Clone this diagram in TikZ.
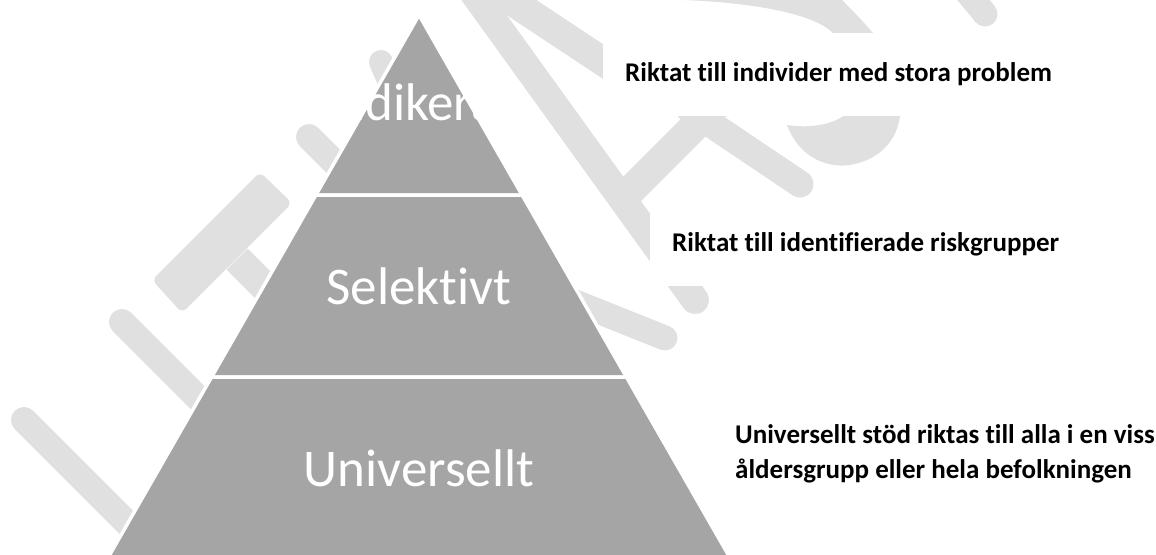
\documentclass[tikz,border=0pt]{standalone}
\usepackage{fontspec}
\setmainfont{Carlito}[Ligatures=NoCommon]
\usepackage{xcolor}
\usepackage{tikz}
\definecolor{tier}{HTML}{A5A5A5}
\definecolor{wmark}{HTML}{E0E0E0}
\tikzset{
  wm/.style={draw=wmark, line width=26pt, line cap=round},
  tierS/.style={fill=tier, draw=white, line width=3.5pt},
  lbl/.style={text=white, font=\fontsize{53}{60}\selectfont, inner sep=0pt, anchor=base},
  desc/.style={fill=white, anchor=west, minimum height=83pt, inner xsep=22pt, inner ysep=0pt, align=left, font=\bfseries\fontsize{27}{35}\selectfont}
}

\begin{document}
\begin{tikzpicture}[x=1pt, y=-1pt]
  \useasboundingbox (0,0) rectangle (1156,554);
  \clip (0,0) rectangle (1156,554);
  \draw[wm] (24,420) -- (170,566);
  \draw[wm] (122,322) -- (250,450);
  \fill[wmark, rounded corners=6pt] (152,280) -- (182,313) -- (292,203) -- (260,172) -- cycle;
  \draw[wm, line width=30pt, line cap=butt] (237,259) -- (300,322);
  \draw[wm] (309,137) -- (380,208);
  \draw[wm, line width=24pt] (381,62) -- (402,110);
  \draw[wm, line width=28pt] (470,-12) -- (695,300);
  \draw[wm, line width=29pt, line cap=butt] (495,-10) -- (640,86);
  \draw[wm, line width=30pt, line cap=butt] (720,101) -- (630,191);
  \draw[wm, line width=27pt] (690,110) -- (800,184);
  \draw[wm, line width=25pt] (540,288) -- (665,338);
  \draw[wm, line width=25pt] (962,-14) -- (985,14);
  \fill[wmark] (787,125) .. controls (800,160) and (830,168) .. (850,165) .. controls (880,160) and (897,140) .. (900,116) -- (843,116) .. controls (830,126) and (805,128) .. (787,125) -- cycle;
  \fill[wmark] (683,0) .. controls (760,3) and (815,15) .. (833,33) -- (873,33) .. controls (860,18) and (850,8) .. (842,0) -- cycle;
  \draw[tierS] (419,15) -- (522.1,195) -- (315.9,195) -- cycle;
  \draw[tierS] (315.9,195) -- (522.1,195) -- (626.4,377) -- (211.6,377) -- cycle;
  \draw[tierS] (211.6,377) -- (626.4,377) -- (730.7,559) -- (107.3,559) -- cycle;
  \node[lbl] (lInd) at (419,120) {Indikerat};
  \node[lbl] (lSel) at (419,304) {Selektivt};
  \node[lbl] (lUni) at (419,486) {Universellt};
  \node[desc] (dInd) at (603,74.5) {Riktat till individer med stora problem};
  \node[desc] (dSel) at (650,244.5) {Riktat till identifierade riskgrupper};
  \node[desc] (dUni) at (713,454) {Universellt stöd riktas till alla i en viss\\åldersgrupp eller hela befolkningen};
\end{tikzpicture}
\end{document}
